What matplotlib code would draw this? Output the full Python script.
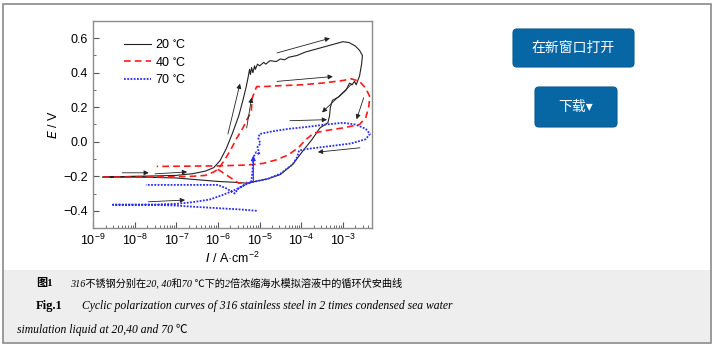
import numpy as np
import matplotlib
matplotlib.use("Agg")
import matplotlib.pyplot as plt
from matplotlib.patches import Rectangle, FancyBboxPatch
from matplotlib.ticker import MultipleLocator, LogLocator, NullFormatter

# log10(I / A cm^-2) and E / V along each scan
log_i_20 = [-8.76, -8.0, -7.5, -7.0, -6.6, -6.3, -6.1, -5.95, -5.8, -5.65, -5.5, -5.4,
            -5.32, -5.27, -5.24, -5.22, -5.19, -5.16, -5.12, -5.1, -5.05, -5.0, -4.9,
            -4.85, -4.75, -4.6, -4.5, -4.4, -4.3, -4.1, -3.9, -3.6, -3.3, -3.0, -2.85,
            -2.7, -2.6, -2.53, -2.55, -2.6, -2.68, -2.72, -2.78, -2.84, -2.92, -3.1,
            -3.25, -3.3, -3.32, -3.36, -3.55, -3.75, -3.95, -4.2, -4.5, -4.8, -5.1,
            -5.3, -5.6, -6.0, -6.5, -7.0, -7.5, -8.0, -8.76]
e_20 = [-0.205, -0.2, -0.198, -0.195, -0.185, -0.17, -0.15, -0.11, -0.04, 0.05, 0.15, 0.24,
        0.32, 0.38, 0.42, 0.39, 0.43, 0.40, 0.44, 0.42, 0.45, 0.44, 0.46, 0.45, 0.47,
        0.465, 0.48, 0.475, 0.49, 0.50, 0.52, 0.54, 0.56, 0.58, 0.575, 0.555, 0.53,
        0.50, 0.45, 0.38, 0.33, 0.35, 0.33, 0.34, 0.30, 0.26, 0.24, 0.20, 0.15, 0.11,
        0.08, 0.01, -0.05, -0.13, -0.19, -0.215, -0.23, -0.24, -0.235, -0.23, -0.22,
        -0.21, -0.207, -0.205, -0.205]

log_i_40 = [-8.76, -8.0, -7.0, -6.6, -6.3, -6.1, -6.0, -5.85, -5.7, -5.55, -5.4, -5.28,
            -5.2, -5.18, -5.12, -5.07, -4.9, -4.5, -4.0, -3.5, -3.0, -2.8, -2.6, -2.45,
            -2.35, -2.38, -2.45, -2.6, -3.0, -3.4, -3.7, -3.9, -4.05, -4.3, -4.6, -4.9,
            -5.3, -6.0, -7.0, -7.47]
e_40 = [-0.205, -0.205, -0.203, -0.2, -0.195, -0.175, -0.16, -0.11, -0.05, 0.02, 0.08,
        0.14, 0.17, 0.25, 0.29, 0.32, 0.32, 0.325, 0.33, 0.34, 0.355, 0.365, 0.35, 0.31,
        0.26, 0.2, 0.14, 0.10, 0.08, 0.065, 0.05, 0.01, -0.03, -0.075, -0.105, -0.125,
        -0.135, -0.14, -0.142, -0.143]
# short side branch of the 40 C scan below the corrosion potential
log_i_40b = [-6.0, -5.75, -5.5, -5.3]
e_40b = [-0.16, -0.2, -0.24, -0.235]

log_i_70 = [-5.07, -5.5, -6.0, -6.5, -7.0, -7.5, -8.0, -8.52, -8.0, -7.5, -7.0, -6.6,
            -6.2, -5.9, -5.6, -5.35, -5.2, -5.17, -5.15, -5.08, -5.0, -5.05, -4.98,
            -5.03, -5.0, -4.7, -4.3, -3.9, -3.4, -3.0, -2.7, -2.45, -2.35, -2.45, -2.8,
            -3.3, -3.8, -4.05, -4.1, -4.2, -4.5, -4.8, -5.1, -5.3, -5.5, -5.6, -5.8,
            -6.0, -6.5, -7.0, -7.73]
e_70 = [-0.40, -0.392, -0.385, -0.378, -0.37, -0.366, -0.365, -0.365, -0.365, -0.364,
        -0.36, -0.35, -0.335, -0.31, -0.28, -0.25, -0.235, -0.17, -0.09, -0.06, -0.075,
        -0.03, -0.01, 0.02, 0.045, 0.06, 0.075, 0.085, 0.10, 0.11, 0.10, 0.075, 0.045,
        0.015, -0.01, -0.025, -0.04, -0.05, -0.09, -0.13, -0.185, -0.215, -0.23, -0.24,
        -0.27, -0.30, -0.27, -0.25, -0.25, -0.25, -0.25]

# scan direction arrows: (log_i_start, e_start, log_i_end, e_end)
arrows_k = [(-4.58, 0.515, -3.31, 0.60), (-4.58, 0.35, -3.24, 0.378),
            (-4.27, 0.122, -3.38, 0.128), (-2.59, -0.035, -3.6, -0.06),
            (-2.78, 0.336, -3.5, 0.17), (-2.5, 0.255, -2.67, 0.13),
            (-5.76, 0.045, -5.47, 0.337), (-5.31, 0.08, -5.19, 0.256),
            (-8.3, -0.18, -7.66, -0.18), (-7.51, -0.186, -6.74, -0.175),
            (-7.67, -0.348, -6.79, -0.338)]
arrows_b = [(-5.15, -0.23, -5.15, -0.08)]

labels = ["20 $^{\\circ}$C", "40 $^{\\circ}$C", "70 $^{\\circ}$C"]
caption_cn = "316不锈钢分别在20, 40和70 ℃下的2倍浓缩海水模拟溶液中的循环伏安曲线"
caption_en1 = "Cyclic polarization curves of 316 stainless steel in 2 times condensed sea water"
caption_en2 = "simulation liquid at 20,40 and 70 ℃"

plt.rcParams['font.family'] = ['Liberation Sans', 'Noto Sans CJK SC']
plt.rcParams['mathtext.default'] = 'regular'

W, H = 715, 348
fig = plt.figure(figsize=(W / 100, H / 100), dpi=100)

# page background: frame, caption band, buttons (pixel coordinates)
bg = fig.add_axes([0, 0, 1, 1], zorder=-1)
bg.set_xlim(0, W)
bg.set_ylim(H, 0)
bg.axis('off')
bg.add_patch(Rectangle((3, 270), 707, 72, facecolor='#eeeeee', edgecolor='none'))
bg.add_patch(Rectangle((2.5, 3.5), 708, 339, facecolor='none', edgecolor='#8a8a8a', lw=1.2))
blue_btn = '#0767a5'
bg.add_patch(FancyBboxPatch((513, 29), 121, 38, boxstyle='round,pad=0,rounding_size=4',
                            facecolor=blue_btn, edgecolor='#0a5a90', lw=0.8))
bg.add_patch(FancyBboxPatch((535, 87), 82, 40, boxstyle='round,pad=0,rounding_size=4',
                            facecolor=blue_btn, edgecolor='#0a5a90', lw=0.8))
bg.text(573.5, 48, "在新窗口打开", color='white', fontsize=10, ha='center', va='center',
        family=['Noto Sans CJK SC'])
bg.text(576, 107, "下载▾", color='white', fontsize=10, ha='center', va='center',
        family=['Noto Sans CJK SC', 'DejaVu Sans'])

cap_fam = ['Liberation Serif', 'Noto Sans CJK SC', 'DejaVu Sans']
bg.text(36, 283, "图1", fontsize=8, weight='bold', va='center', family=cap_fam)
bg.text(70, 283, caption_cn, fontsize=7.3, style='italic', va='center', family=cap_fam)
bg.text(36, 306, "Fig.1", fontsize=9, weight='bold', va='center', family=cap_fam)
bg.text(82, 306, caption_en1, fontsize=8.4, style='italic', va='center', family=cap_fam)
bg.text(17, 330, caption_en2, fontsize=8.4, style='italic', va='center', family=cap_fam)

# polarization curves
ax = fig.add_axes([93 / W, 1 - 228 / H, (372 - 93) / W, (228 - 21) / H])
ax.plot(10 ** np.array(log_i_20), e_20, color='#222222', lw=0.8, label=labels[0])
ax.plot(10 ** np.array(log_i_40), e_40, color='#ff1a1a', lw=1.2, ls=(0, (4, 2.5)),
        label=labels[1])
ax.plot(10 ** np.array(log_i_40b), e_40b, color='#ff1a1a', lw=1.2, ls=(0, (4, 2.5)))
ax.plot(10 ** np.array(log_i_70), e_70, color='#2a2aff', lw=1.3, ls=(0, (1, 0.8)),
        label=labels[2])

for x0, y0, x1, y1 in arrows_k:
    ax.annotate('', xy=(10 ** x1, y1), xytext=(10 ** x0, y0),
                arrowprops=dict(arrowstyle='-|>', color='#222222', lw=0.6,
                                mutation_scale=7, shrinkA=0, shrinkB=0))
for x0, y0, x1, y1 in arrows_b:
    ax.annotate('', xy=(10 ** x1, y1), xytext=(10 ** x0, y0),
                arrowprops=dict(arrowstyle='-|>', color='#2a2aff', lw=0.8,
                                mutation_scale=7, shrinkA=0, shrinkB=0))

ax.set_xscale('log')
ax.set_xlim(1e-9, 10 ** -2.3)
ax.set_ylim(-0.5, 0.7)
ax.set_yticks([-0.4, -0.2, 0.0, 0.2, 0.4, 0.6])
ax.yaxis.set_minor_locator(MultipleLocator(0.1))
ax.xaxis.set_major_locator(LogLocator(base=10, numticks=12))
ax.xaxis.set_minor_locator(LogLocator(base=10, subs=np.arange(2, 10), numticks=12))
ax.xaxis.set_minor_formatter(NullFormatter())
ax.tick_params(which='both', direction='in', labelsize=9, color='#555555', top=False,
               right=False)
ax.tick_params(which='major', length=4)
ax.tick_params(which='minor', length=2)
for sp in ax.spines.values():
    sp.set_color('#8c8c8c')
    sp.set_linewidth(1.0)

ax.set_xlabel("$\\mathit{I}$ / A·cm$^{-2}$", fontsize=9, labelpad=2)
ax.set_ylabel("$\\mathit{E}$ / V", fontsize=9)
ax.yaxis.set_label_coords(-0.12, 0.5)

ax.legend(loc='upper left', bbox_to_anchor=(0.07, 0.97), frameon=False, fontsize=9,
          handlelength=2.2, handletextpad=0.3, labelspacing=0.35)

fig.savefig('out.png', dpi=100)
